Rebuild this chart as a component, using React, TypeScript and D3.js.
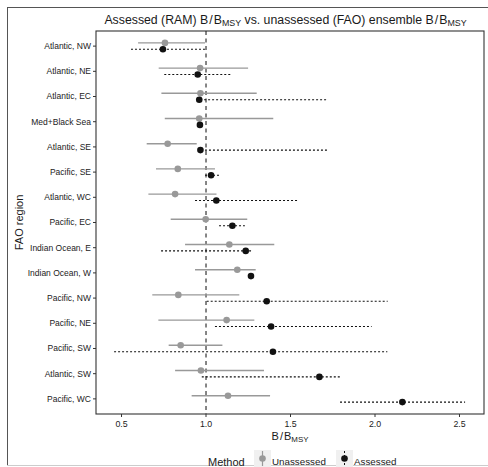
import React from "react";
import * as d3 from "d3";

const regions = [
  "Atlantic, NW", "Atlantic, NE", "Atlantic, EC", "Med+Black Sea", "Atlantic, SE",
  "Pacific, SE", "Atlantic, WC", "Pacific, EC", "Indian Ocean, E", "Indian Ocean, W",
  "Pacific, NW", "Pacific, NE", "Pacific, SW", "Atlantic, SW", "Pacific, WC",
];
// Unassessed (FAO ensemble)
const unassessedMid = [0.757, 0.965, 0.967, 0.96, 0.773, 0.833, 0.817, 0.998, 1.138, 1.185, 0.836, 1.122, 0.85, 0.97, 1.13];
const unassessedLo = [0.598, 0.72, 0.736, 0.756, 0.649, 0.704, 0.659, 0.791, 0.876, 0.935, 0.682, 0.718, 0.779, 0.817, 0.915];
const unassessedHi = [0.994, 1.249, 1.3, 1.398, 0.945, 1.053, 1.062, 1.244, 1.404, 1.294, 1.197, 1.286, 1.097, 1.343, 1.379];
// Assessed (RAM)
const assessedMid = [0.745, 0.951, 0.96, 0.964, 0.967, 1.03, 1.061, 1.156, 1.235, 1.266, 1.359, 1.385, 1.396, 1.671, 2.162];
const assessedLo = [0.556, 0.753, 0.965, 0.95, 0.97, 0.994, 0.935, 1.077, 0.734, 1.25, 1.004, 1.053, 0.456, 0.975, 1.793];
const assessedHi = [0.994, 1.152, 1.714, 0.98, 1.72, 1.077, 1.55, 1.23, 1.27, 1.28, 2.075, 1.98, 2.073, 1.803, 2.533];
const xTicks = [0.5, 1.0, 1.5, 2.0, 2.5];

const W = 488, H = 467;
const P = { l: 96, r: 484, t: 31, b: 414 };
const FONT = "'Liberation Sans', Arial, Helvetica, sans-serif";

function BB({ size, tail }: { size: number; tail?: string }) {
  return (
    <>
      <tspan>B</tspan>
      <tspan dx={1}>/</tspan>
      <tspan dx={1}>B</tspan>
      <tspan fontSize={size * 0.72} baselineShift="-22%">MSY</tspan>
      {tail ? <tspan>{tail}</tspan> : null}
    </>
  );
}

export default function App() {
  const x = d3.scaleLinear().domain([0.349, 2.645]).range([P.l, P.r]);
  const y = d3.scalePoint<string>().domain(regions).range([P.t, P.b]).padding(0.6);
  const dodge = 3.2;
  const gray = "#999999";

  return (
    <svg width={W} height={H} style={{ position: "absolute", left: 0, top: 0 }} fontFamily={FONT}>
      <rect x={0} y={0} width={W} height={H} fill="#fff" />
      {/* outer frame */}
      <line x1={7.5} x2={7.5} y1={7} y2={466} stroke="#555" strokeWidth={1} />
      <line x1={7} x2={W} y1={7.5} y2={7.5} stroke="#555" strokeWidth={1} />
      <line x1={7} x2={W} y1={465.5} y2={465.5} stroke="#ccc" strokeWidth={1} />

      {/* title */}
      <text x={285.5} y={24} fontSize={12.3} textAnchor="middle" fill="#1a1a1a">
        <tspan>Assessed (RAM) </tspan>
        <BB size={12.3} tail=" vs. unassessed (FAO) ensemble " />
        <BB size={12.3} />
      </text>

      {/* panel */}
      <rect x={P.l} y={P.t} width={P.r - P.l} height={P.b - P.t} fill="#fff" stroke="#333" strokeWidth={1.1} />

      {/* reference line */}
      <line x1={x(1)} x2={x(1)} y1={P.t} y2={P.b} stroke="#222" strokeWidth={1.1} strokeDasharray="4,3.5" />

      {regions.map((r, i) => {
        const yc = y(r) as number;
        return (
          <g key={r}>
            <line x1={x(unassessedLo[i])} x2={x(unassessedHi[i])} y1={yc - dodge} y2={yc - dodge} stroke={gray} strokeWidth={1.4} />
            <circle cx={x(unassessedMid[i])} cy={yc - dodge} r={3.3} fill={gray} />
            <line x1={x(assessedLo[i])} x2={x(assessedHi[i])} y1={yc + dodge} y2={yc + dodge} stroke="#111" strokeWidth={1.1} strokeDasharray="2,2" />
            <circle cx={x(assessedMid[i])} cy={yc + dodge} r={3.3} fill="#111" />
          </g>
        );
      })}

      {/* y axis */}
      {regions.map((r) => {
        const yc = y(r) as number;
        return (
          <g key={"yt" + r}>
            <line x1={P.l - 3} x2={P.l} y1={yc} y2={yc} stroke="#333" strokeWidth={1} />
            <text x={P.l - 5} y={yc} dy="0.35em" fontSize={8.5} textAnchor="end" fill="#222">{r}</text>
          </g>
        );
      })}
      {/* x axis */}
      {xTicks.map((t) => (
        <g key={"xt" + t}>
          <line x1={x(t)} x2={x(t)} y1={P.b} y2={P.b + 3} stroke="#333" strokeWidth={1} />
          <text x={x(t)} y={P.b + 13} fontSize={8.8} textAnchor="middle" fill="#222">{t.toFixed(1)}</text>
        </g>
      ))}

      {/* axis titles */}
      <text x={(P.l + P.r) / 2} y={440} fontSize={11} textAnchor="middle" fill="#1a1a1a">
        <BB size={11} />
      </text>
      <text transform={`translate(23, ${(P.t + P.b) / 2}) rotate(-90)`} fontSize={11} textAnchor="middle" fill="#1a1a1a">FAO region</text>

      {/* legend */}
      <text x={208} y={466} fontSize={11} fill="#1a1a1a">Method</text>
      <rect x={254} y={450} width={17} height={17} fill="#f0f0f0" />
      <line x1={262.5} x2={262.5} y1={451} y2={466} stroke={gray} strokeWidth={1.2} />
      <circle cx={262.5} cy={458.5} r={3.3} fill={gray} />
      <text x={272} y={465} fontSize={9.8} fill="#1a1a1a">Unassessed</text>
      <rect x={336} y={450} width={17} height={17} fill="#f0f0f0" />
      <line x1={344.5} x2={344.5} y1={451} y2={466} stroke="#111" strokeWidth={1} strokeDasharray="2,2" />
      <circle cx={344.5} cy={458.5} r={3.3} fill="#111" />
      <text x={354} y={465} fontSize={9.8} fill="#1a1a1a">Assessed</text>
    </svg>
  );
}
